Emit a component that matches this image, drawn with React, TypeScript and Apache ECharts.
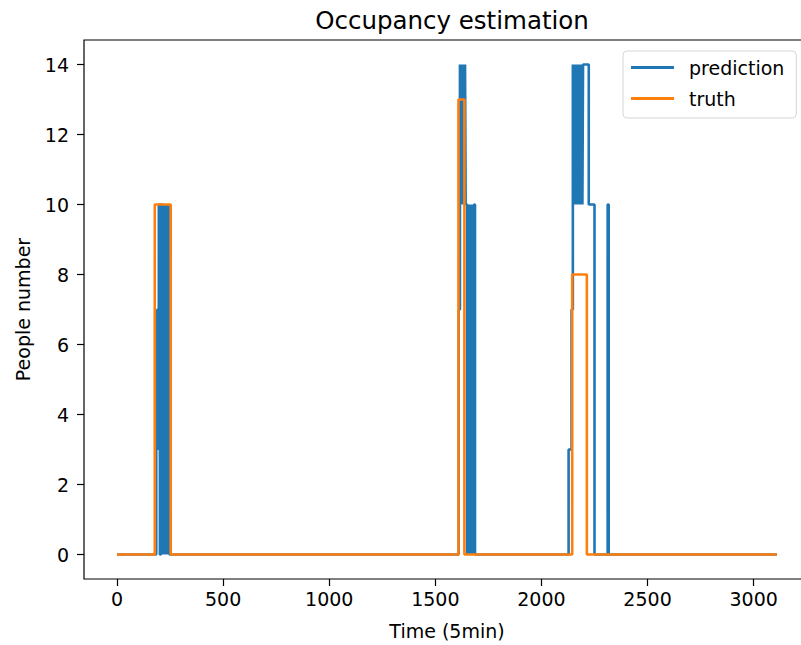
import React, { useEffect, useRef } from "react";
import * as echarts from "echarts";

// Change points of the step series (value holds until the next x)
const predX = [
  0, 185, 190, 197, 202, 207, 211, 214, 217, 220, 223, 226, 229, 232, 235, 238, 241, 244, 247,
  1610, 1616, 1619, 1622, 1625, 1628, 1631, 1634, 1637, 1640, 1643, 1650, 1653, 1656, 1659, 1662, 1665, 1668, 1671, 1674, 1677, 1680, 1683, 1687,
  2128, 2142, 2148, 2151, 2154, 2157, 2160, 2163, 2166, 2169, 2172, 2175, 2178, 2181, 2184, 2187, 2190, 2193, 2196, 2223, 2250, 2312, 2317, 3110,
];
const predY = [
  0, 3, 7, 10, 0, 10, 0, 10, 0, 10, 0, 10, 0, 10, 0, 10, 0, 10, 0,
  7, 14, 10, 14, 10, 14, 10, 14, 10, 14, 10, 0, 10, 0, 10, 0, 10, 0, 10, 0, 10, 0, 10, 0,
  3, 7, 14, 10, 14, 10, 14, 10, 14, 10, 14, 10, 14, 10, 14, 10, 14, 10, 14, 10, 0, 10, 0, 0,
];
const truthX = [0, 178, 253, 1609, 1637, 2145, 2214, 3110];
const truthY = [0, 10, 0, 13, 0, 8, 0, 0];

const xTicks = [0, 500, 1000, 1500, 2000, 2500, 3000];
const yTicks = [0, 2, 4, 6, 8, 10, 12, 14];

const FONT = "DejaVu Sans";

export default function App() {
  const ref = useRef<HTMLDivElement>(null);
  useEffect(() => {
    if (!ref.current) return;
    const chart = echarts.init(ref.current, undefined, { renderer: "svg" });
    const pred = predX.map((x, i) => [x, predY[i]]);
    const truth = truthX.map((x, i) => [x, truthY[i]]);
    chart.setOption({
      animation: false,
      backgroundColor: "#fff",
      title: {
        text: "Occupancy estimation",
        left: 447,
        textAlign: "center",
        top: 3,
        textStyle: { fontFamily: FONT, fontSize: 24.5, fontWeight: "normal", color: "#000" },
      },
      legend: {
        data: ["prediction", "truth"],
        orient: "vertical",
        left: 623,
        top: 51,
        padding: [5, 12, 8, 8],
        itemGap: 8,
        itemWidth: 43,
        itemHeight: 3,
        icon: "rect",
        backgroundColor: "rgba(255,255,255,0.8)",
        borderColor: "#d6d6d6",
        borderWidth: 1,
        borderRadius: 4,
        textStyle: { fontFamily: FONT, fontSize: 19, color: "#000", padding: [0, 0, 0, 10], lineHeight: 23 },
      },
      grid: {
        left: 84,
        top: 40,
        width: 726,
        height: 540,
        show: true,
        borderColor: "#000",
        borderWidth: 1.2,
        containLabel: false,
      },
      xAxis: {
        type: "value",
        min: -155.5,
        max: 3265.5,
        name: "Time (5min)",
        nameLocation: "middle",
        nameGap: 42,
        nameTextStyle: { fontFamily: FONT, fontSize: 19, color: "#000" },
        axisLine: { show: false, onZero: false },
        axisTick: { show: true, length: 7, lineStyle: { color: "#000", width: 1.2 }, customValues: xTicks },
        axisLabel: {
          fontFamily: FONT,
          fontSize: 19,
          color: "#000",
          margin: 10,
          customValues: xTicks,
          formatter: (v: number) => String(v),
        },
        splitLine: { show: false },
      },
      yAxis: {
        type: "value",
        min: -0.7,
        max: 14.7,
        name: "People number",
        nameLocation: "middle",
        nameGap: 52,
        nameTextStyle: { fontFamily: FONT, fontSize: 19, color: "#000" },
        axisLine: { show: false, onZero: false },
        axisTick: { show: true, length: 7, lineStyle: { color: "#000", width: 1.2 }, customValues: yTicks },
        axisLabel: {
          fontFamily: FONT,
          fontSize: 19,
          color: "#000",
          margin: 15,
          customValues: yTicks,
          formatter: (v: number) => String(v),
        },
        splitLine: { show: false },
      },
      series: [
        {
          name: "prediction",
          type: "line",
          step: "end",
          data: pred,
          showSymbol: false,
          symbol: "none",
          color: "#1f77b4",
          lineStyle: { color: "#1f77b4", width: 2.6 },
        },
        {
          name: "truth",
          type: "line",
          step: "end",
          data: truth,
          showSymbol: false,
          symbol: "none",
          color: "#ff7f0e",
          lineStyle: { color: "#ff7f0e", width: 2.6 },
        },
      ],
    });
    return () => chart.dispose();
  }, []);
  return (
    <div
      ref={ref}
      style={{ position: "fixed", left: 0, top: 0, width: 830, height: 645 }}
    />
  );
}
